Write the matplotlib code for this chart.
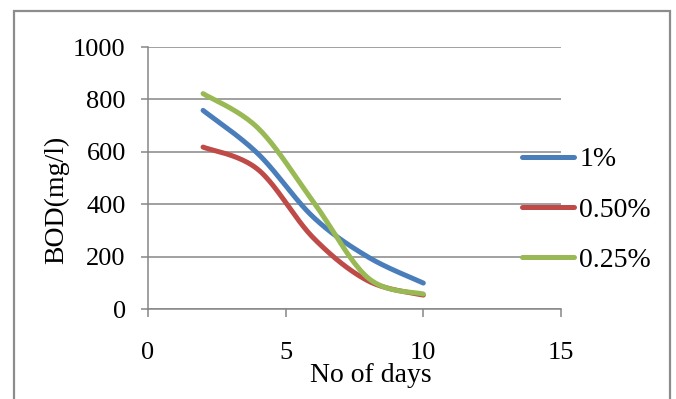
import numpy as np
import matplotlib
matplotlib.use("Agg")
import matplotlib.pyplot as plt
from matplotlib.patches import Rectangle

# BOD vs days
days = [2, 4, 6, 8, 10]
bod_1 = [758, 592, 351, 198, 99]
bod_050 = [618, 532, 272, 107, 53]
bod_025 = [822, 690, 410, 118, 57]
labels = ["1%", "0.50%", "0.25%"]
colors = ["#4a7ebb", "#be4b48", "#98b954"]


def smooth(x, y, n=40):
    """Excel-like smoothed line (Catmull-Rom through the points)"""
    x = np.asarray(x, float)
    y = np.asarray(y, float)
    px = np.concatenate([[x[0]], x, [x[-1]]])
    py = np.concatenate([[y[0]], y, [y[-1]]])
    xs, ys = [], []
    t = np.linspace(0, 1, n)
    for i in range(1, len(px) - 2):
        p0 = np.array([px[i], py[i]])
        p3 = np.array([px[i + 1], py[i + 1]])
        c1 = p0 + (np.array([px[i + 1], py[i + 1]]) - np.array([px[i - 1], py[i - 1]])) / 6
        c2 = p3 - (np.array([px[i + 2], py[i + 2]]) - np.array([px[i], py[i]])) / 6
        b = ((1 - t) ** 3)[:, None] * p0 + (3 * (1 - t) ** 2 * t)[:, None] * c1 \
            + (3 * (1 - t) * t ** 2)[:, None] * c2 + (t ** 3)[:, None] * p3
        xs.extend(b[:, 0])
        ys.extend(b[:, 1])
    return xs, ys


plt.rcParams["font.family"] = "Liberation Serif"
fig = plt.figure(figsize=(6.76, 3.99), dpi=100)
ax = fig.add_axes([148 / 676, 1 - 309 / 399, 413 / 676, 262 / 399])

for ys, lab, c in zip([bod_1, bod_050, bod_025], labels, colors):
    sx, sy = smooth(days, ys)
    ax.plot(sx, sy, color=c, lw=3.6, label=lab, solid_capstyle="round")

ax.set_xlim(0, 15)
ax.set_ylim(0, 1000)
ax.set_xticks([0, 5, 10, 15])
ax.set_yticks(range(0, 1001, 200))
ax.grid(axis="y", color="#868686", lw=1.1)
ax.set_axisbelow(True)
for s in ["top", "right"]:
    ax.spines[s].set_visible(False)
for s in ["left", "bottom"]:
    ax.spines[s].set_color("#868686")
    ax.spines[s].set_linewidth(1.1)
ax.tick_params(axis="y", direction="out", length=5, width=1.1, color="#868686",
               pad=11, labelsize=19)
ax.tick_params(axis="x", direction="out", length=6, width=1.1, color="#868686",
               pad=18, labelsize=19)

ax.set_xlabel("No of days", fontsize=20)
ax.xaxis.set_label_coords(0.54, -0.205)
ax.set_ylabel("BOD(mg/l)", fontsize=20)
ax.yaxis.set_label_coords(-0.19, 0.416)

leg = ax.legend(loc="center left", bbox_to_anchor=(0.906, 0.378), frameon=False,
                fontsize=20, handlelength=1.85, handletextpad=0.2,
                labelspacing=0.9, borderaxespad=0, borderpad=0)
leg.set_zorder(5)

fig.patches.append(Rectangle((14 / 676, -0.02), 656 / 676, 1 - 11 / 399 + 0.02,
                             transform=fig.transFigure, fill=False,
                             edgecolor="#8c8c8c", lw=1.6))

fig.savefig("out.png", dpi=100)
